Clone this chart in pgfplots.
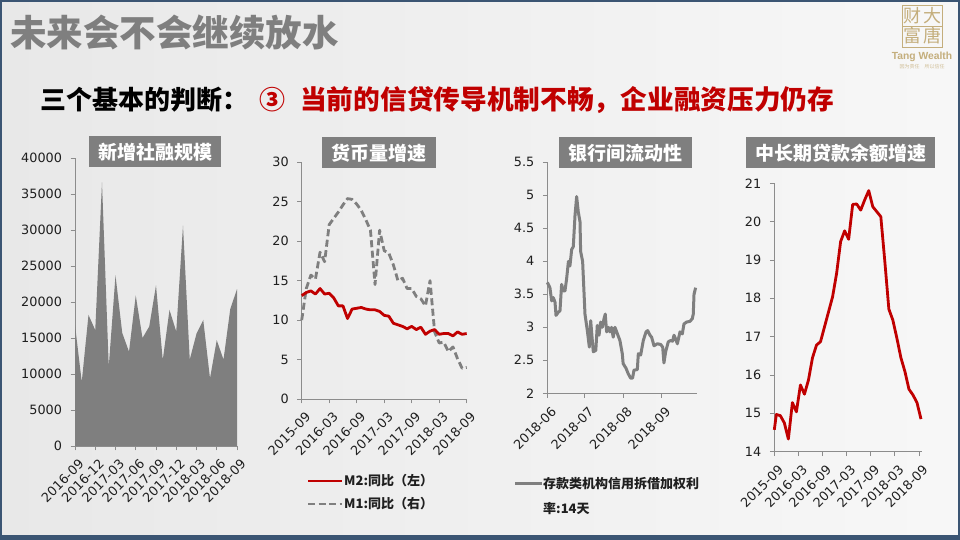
\documentclass[border=0pt]{standalone}
\usepackage{pgfplots}
\pgfplotsset{compat=1.18}
\usepackage{fontspec}
\setmainfont{DejaVu Sans}
\newfontfamily\cjk{Noto Sans CJK SC}
\newfontfamily\arial{Liberation Sans}

\definecolor{cred}{HTML}{C00000}
\definecolor{cgray}{HTML}{7F7F7F}
\definecolor{axgray}{HTML}{8C8C8C}
\definecolor{tickcol}{HTML}{1F1F1F}
\definecolor{gold}{HTML}{C4AE7C}
\definecolor{framecol}{HTML}{3B5573}

\pgfplotsset{
  panel/.style={
    scale only axis,
    anchor=south west,
    axis lines=left,
    axis line style={draw=axgray, line width=0.9pt, -},
    tick style={draw=axgray, line width=0.9pt},
    tick align=outside,
    major tick length=4.5pt,
    ticklabel style={font=\fontsize{12.8}{14}\selectfont, text=tickcol},
    yticklabel style={xshift=-5pt},
    xticklabel style={xshift=3pt, yshift=-3pt, rotate=45, anchor=north east},
    /pgf/number format/assume math mode=true,
    /pgf/number format/set thousands separator={},
    scaled ticks=false,
    clip=false,
  },
}

% panel titles
\tikzset{ptitle/.style={fill=cgray, text=white, font=\cjk\bfseries\fontsize{19}{21}\selectfont,
  minimum height=31pt, inner xsep=0pt, inner ysep=0pt}}

\begin{document}
\begin{tikzpicture}
% slide background
\useasboundingbox (0pt,0pt) rectangle (960pt,540pt);
\shade[left color=black!9, right color=black!3] (0pt,0pt) rectangle (960pt,540pt);
\fill[framecol] (0pt,0pt) rectangle (960pt,5pt);
\draw[framecol, line width=2pt] (1pt,1pt) rectangle (959pt,539pt);

% headings
\node[anchor=west, text=cgray, font=\cjk\bfseries\fontsize{36.5}{40}\selectfont, inner sep=0pt] at (10pt,508pt) {未来会不会继续放水};
\node[anchor=west, text=black, font=\cjk\bfseries\fontsize{26}{30}\selectfont, inner sep=0pt] at (40pt,440pt) {三个基本的判断：};
\node[anchor=west, text=cred, font=\cjk\bfseries\fontsize{26}{30}\selectfont, inner sep=0pt] at (259pt,440pt) {③};
\node[anchor=west, text=cred, font=\cjk\bfseries\fontsize{26.7}{30}\selectfont, inner sep=0pt] at (300pt,440pt) {当前的信贷传导机制不畅，企业融资压力仍存};

% logo
\draw[gold, line width=0.5pt] (902pt,493pt) rectangle (942pt,535pt);
\draw[gold, line width=0.5pt] (902pt,514pt) -- (942pt,514pt);
\node[text=gold, font=\cjk\fontsize{18}{18}\selectfont, inner sep=0pt] at (912pt,524pt) {财};
\node[text=gold, font=\cjk\fontsize{18}{18}\selectfont, inner sep=0pt] at (932pt,524pt) {大};
\node[text=gold, font=\cjk\fontsize{18}{18}\selectfont, inner sep=0pt] at (912pt,504pt) {富};
\node[text=gold, font=\cjk\fontsize{18}{18}\selectfont, inner sep=0pt] at (932pt,504pt) {唐};
\node[text=gold, font=\arial\bfseries\fontsize{10.3}{11}\selectfont, inner sep=0pt] at (922pt,483.5pt) {Tang Wealth};
\node[text=gold!80, font=\cjk\fontsize{5}{6}\selectfont, inner sep=0pt] at (922pt,473pt) {因为责任\quad 所以信任};

% ---- panel 1: 新增社融规模 ----
\node[ptitle, minimum width=132pt] at (155pt,388pt) {新增社融规模};
\begin{axis}[panel, at={(75pt,94pt)}, width=162pt, height=288pt,
    xmin=0, xmax=24, ymin=0, ymax=40000,
    ytick={0,5000,...,40000},
    xtick={0,3,...,24},
    xticklabels={2016-09,2016-12,2017-03,2017-06,2017-09,2017-12,2018-03,2018-06,2018-09}]
\addplot[fill=cgray, draw=none] coordinates {
 (0,16800) (1,8900) (2,18200) (3,16100) (4,36600) (5,11000) (6,23700)
 (7,15700) (8,13100) (9,20900) (10,15000) (11,16600) (12,22300) (13,11950)
 (14,18900) (15,15900) (16,30600) (17,12000) (18,15600) (19,17500) (20,9400)
 (21,14700) (22,12000) (23,19000) (24,21800)} \closedcycle;
\end{axis}

% ---- panel 2: 货币量增速 ----
\node[ptitle, minimum width=114pt] at (378.7pt,387.2pt) {货币量增速};
\begin{axis}[panel, at={(301.7pt,141pt)}, width=165pt, height=236.7pt,
    xmin=0, xmax=36, ymin=0, ymax=30,
    ytick={0,5,...,30},
    xtick={0,6,...,36},
    xticklabels={2015-09,2016-03,2016-09,2017-03,2017-09,2018-03,2018-09}]
% M1 (dashed grey)
\addplot[cgray, line width=2.8pt, dash pattern=on 7pt off 3.5pt, line join=round] coordinates {
 (0,10.0) (1,14.0) (2,15.7) (3,15.2) (4,18.6) (5,17.4) (6,22.1) (7,22.9)
 (8,23.7) (9,24.6) (10,25.4) (11,25.3) (12,24.7) (13,23.9) (14,22.7) (15,21.4)
 (16,14.5) (17,21.4) (18,18.8) (19,18.5) (20,17.0) (21,15.0) (22,15.3) (23,14.0)
 (24,14.0) (25,13.0) (26,12.7) (27,11.8) (28,15.0) (29,8.5) (30,7.1) (31,7.2)
 (32,6.0) (33,6.6) (34,5.1) (35,3.9) (36,4.0)};
% M2 (solid red)
\addplot[cred, line width=2.8pt, line join=round] coordinates {
 (0,13.1) (1,13.5) (2,13.7) (3,13.3) (4,14.0) (5,13.3) (6,13.4) (7,12.8)
 (8,11.8) (9,11.8) (10,10.2) (11,11.4) (12,11.5) (13,11.6) (14,11.4) (15,11.3)
 (16,11.3) (17,11.1) (18,10.6) (19,10.5) (20,9.6) (21,9.4) (22,9.2) (23,8.9)
 (24,9.2) (25,8.8) (26,9.1) (27,8.2) (28,8.6) (29,8.8) (30,8.2) (31,8.3)
 (32,8.3) (33,8.0) (34,8.5) (35,8.2) (36,8.3)};
\end{axis}
\draw[cred, line width=2.8pt] (308pt,59pt) -- (342pt,59pt);
\node[anchor=west, inner sep=0pt, text=tickcol, font=\cjk\bfseries\fontsize{13}{15}\selectfont] at (344pt,59pt) {M2:同比（左）};
\draw[cgray, line width=2.8pt, dash pattern=on 7pt off 3.5pt] (308pt,36pt) -- (342pt,36pt);
\node[anchor=west, inner sep=0pt, text=tickcol, font=\cjk\bfseries\fontsize{13}{15}\selectfont] at (344pt,36pt) {M1:同比（右）};

% ---- panel 3: 银行间流动性 ----
\node[ptitle, minimum width=133pt] at (625.5pt,387.2pt) {银行间流动性};
\begin{axis}[panel, at={(547.3pt,146.7pt)}, width=149.2pt, height=231pt,
    xmin=0, xmax=120, ymin=2, ymax=5.5,
    ytick={2,2.5,...,5.5},
    xtick={0,30,61,92},
    xticklabels={2018-06,2018-07,2018-08,2018-09}]
\addplot[cgray, line width=3pt, line join=round] coordinates {
 (0,3.68) (2.1,3.60) (3.5,3.40) (4.8,3.45) (6.2,3.38) (7,3.18) (8.9,3.23) (10.2,3.25)
 (11.5,3.65) (12.9,3.55) (14.2,3.55) (15.5,3.73) (17,4.00) (18.2,3.93) (19.6,4.18)
 (20.9,4.22) (22.3,4.70) (23.6,4.98) (24.9,4.75) (26.3,4.60) (26.8,4.15) (28.4,4.00)
 (30.3,3.20) (32.2,2.95) (33.8,2.70) (34.9,3.10) (36.2,2.80) (37,2.63) (39,2.65)
 (40.2,3.03) (41.6,2.88) (42.9,3.08) (44.2,3.00) (45.6,3.13) (46.6,3.20) (47.7,2.93)
 (49.1,3.00) (50.4,2.93) (51.7,3.00) (53,2.85) (54.4,3.00) (55.8,2.93) (58.4,2.80)
 (60.3,2.60) (61,2.45) (63.3,2.38) (65,2.30) (67,2.23) (68.6,2.23) (69.7,2.35)
 (72.4,2.36) (73.2,2.60) (75.1,2.58) (77.2,2.80) (79.4,2.93) (80.7,2.95) (82.6,2.88)
 (83.9,2.85) (85.8,2.72) (88.5,2.75) (91.2,2.74) (92.8,2.70) (93.8,2.46) (95.2,2.63)
 (97.3,2.78) (99.2,2.80) (100.8,2.79) (101.9,2.88) (103.5,2.81) (104.6,2.75)
 (106.7,2.93) (108.6,2.90) (109.9,3.05) (112,3.08) (114.7,3.09) (116.6,3.13)
 (117.4,3.20) (118,3.50) (119.3,3.60)};
\end{axis}
\draw[cgray, line width=3pt] (515pt,56pt) -- (541.7pt,56pt);
\node[anchor=west, inner sep=0pt, text=tickcol, font=\cjk\bfseries\fontsize{13}{15}\selectfont] at (543pt,56pt) {存款类机构信用拆借加权利};
\node[anchor=west, inner sep=0pt, text=tickcol, font=\cjk\bfseries\fontsize{13}{15}\selectfont] at (543pt,31.7pt) {率:14天};

% ---- panel 4: 中长期贷款余额增速 ----
\node[ptitle, minimum width=189pt] at (840.5pt,387.2pt) {中长期贷款余额增速};
\begin{axis}[panel, at={(774.3pt,88.3pt)}, width=147.5pt, height=268.4pt,
    xmin=0, xmax=36.7, ymin=14, ymax=21,
    ytick={14,15,...,21},
    xtick={0,6,...,36},
    xticklabels={2015-09,2016-03,2016-09,2017-03,2017-09,2018-03,2018-09}]
\addplot[cred, line width=2.8pt, line join=round] coordinates {
 (0,14.57) (0.5,14.97) (1.5,14.94) (2.5,14.75) (3.5,14.33) (4.5,15.28) (5.5,15.04)
 (6.5,15.74) (7.5,15.50) (8.5,15.87) (9.5,16.45) (10.5,16.78) (11.5,16.87)
 (12.5,17.26) (13.5,17.65) (14.5,18.04) (15.5,18.65) (16.5,19.48) (17.5,19.76)
 (18.5,19.54) (19.5,20.45) (20.5,20.46) (21.5,20.30) (22.5,20.57) (23.5,20.81)
 (24.5,20.39) (25.5,20.26) (26.5,20.13) (27.5,18.96) (28.5,17.72) (29.5,17.43)
 (30.5,16.96) (31.5,16.45) (32.5,16.09) (33.5,15.63) (34.5,15.48) (35.5,15.28)
 (36.5,14.85)};
\end{axis}
\end{tikzpicture}
\end{document}
